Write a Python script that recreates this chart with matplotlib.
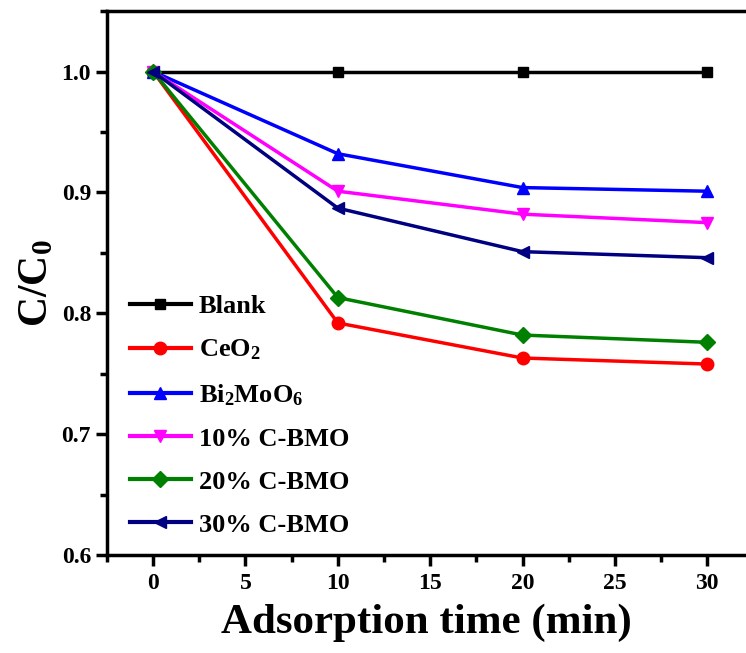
import matplotlib.pyplot as plt
from matplotlib.ticker import MultipleLocator

plt.rcParams['font.family'] = ['Liberation Serif', 'DejaVu Serif']
plt.rcParams['font.weight'] = 'bold'
plt.rcParams['mathtext.fontset'] = 'custom'
plt.rcParams['mathtext.rm'] = 'Liberation Serif:bold'
plt.rcParams['mathtext.it'] = 'Liberation Serif:bold'
plt.rcParams['mathtext.bf'] = 'Liberation Serif:bold'

# data
time = [0, 10, 20, 30]
blank = [1.0, 1.0, 1.0, 1.0]
ceo2 = [1.0, 0.792, 0.763, 0.758]
bmo = [1.0, 0.932, 0.904, 0.901]
cbmo10 = [1.0, 0.901, 0.882, 0.875]
cbmo20 = [1.0, 0.813, 0.782, 0.776]
cbmo30 = [1.0, 0.887, 0.851, 0.846]

labels = ["Blank", r"CeO$_2$", r"Bi$_2$MoO$_6$", "10% C-BMO", "20% C-BMO", "30% C-BMO"]
series = [blank, ceo2, bmo, cbmo10, cbmo20, cbmo30]
colors = ["black", "red", "blue", "magenta", "green", "navy"]
markers = ["s", "o", "^", "v", "D", "<"]
msizes = [7, 9, 9, 9, 8, 9]

fig = plt.figure(figsize=(7.46, 6.53), dpi=100)
ax = fig.add_axes([0.1434, 0.150, 0.8566, 0.833])

for y, lab, c, m, ms in zip(series, labels, colors, markers, msizes):
    ax.plot(time, y, color=c, marker=m, markersize=ms, linewidth=2.5, label=lab)

ax.set_xlim(-2.5, 32.1)
ax.set_ylim(0.6, 1.05)
ax.xaxis.set_major_locator(MultipleLocator(5))
ax.xaxis.set_minor_locator(MultipleLocator(2.5))
ax.yaxis.set_major_locator(MultipleLocator(0.1))
ax.yaxis.set_minor_locator(MultipleLocator(0.05))
ax.yaxis.set_major_formatter(plt.FormatStrFormatter('%.1f'))

for s in ["left", "bottom", "top"]:
    ax.spines[s].set_linewidth(2.5)
ax.spines["right"].set_visible(False)

ax.tick_params(which="major", direction="out", length=8, width=2.5, labelsize=17)
ax.tick_params(which="minor", direction="out", length=5, width=2.5)
ax.tick_params(top=False, right=False, which="both")
ax.tick_params(axis="x", pad=5)

ax.set_xlabel("Adsorption time (min)", fontsize=31, fontweight="bold", labelpad=7)
ax.set_ylabel(r"C/C$_0$", fontsize=30, fontweight="bold", labelpad=4)

leg = ax.legend(loc="lower left", frameon=False, fontsize=19, handlelength=2.3,
                borderaxespad=0.3, labelspacing=0.74, handletextpad=0.3,
                bbox_to_anchor=(0.007, 0.0))
for h in leg.get_lines():
    h.set_linewidth(3)

fig.savefig("out.png", dpi=100)
